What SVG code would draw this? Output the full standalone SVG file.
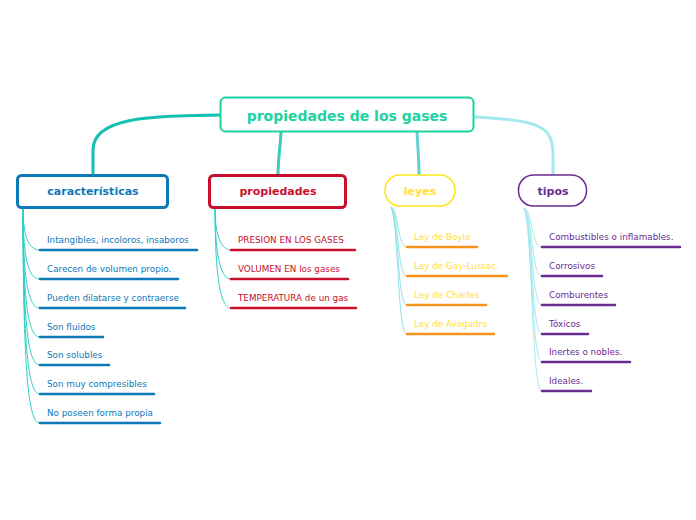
<svg xmlns="http://www.w3.org/2000/svg" width="696" height="520" viewBox="0 0 696 520">
<style>
text{font-family:"DejaVu Sans","Verdana",sans-serif}
.main{font-size:14px;font-weight:bold;fill:#1dd3a0;text-anchor:middle}
.lbl{font-size:11px;font-weight:bold;text-anchor:middle}
.sub{font-size:8.8px}
.c{fill:none}
.thin{fill:none;stroke-width:1}
.ul{stroke-width:2.5;stroke-linecap:round}
</style>
<rect width="696" height="520" fill="#ffffff"/>
<g id="connectors">
<path class="c" d="M220,115 C150,116 93,117 93,150 V176" stroke="#14c0b3" stroke-width="3"/>
<path class="c" d="M281,132 C280,150 278,160 278,176" stroke="#3cc9c0" stroke-width="3"/>
<path class="c" d="M417,132 C418,150 419,160 419,176" stroke="#5dd3d3" stroke-width="3"/>
<path class="c" d="M474,117 C540,120 553,126 553,155 V176" stroke="#a3e9ee" stroke-width="3"/>
<g stroke="#2ed0c6">
<path class="thin" d="M23,207 C23,240 30,250 40,250"/>
<path class="thin" d="M23,207 C23,265 30,279 40,279"/>
<path class="thin" d="M23,207 C23,290 30,308 40,308"/>
<path class="thin" d="M23,207 C23,315 30,337 40,337"/>
<path class="thin" d="M23,207 C23,340 30,365 40,365"/>
<path class="thin" d="M23,207 C23,365 30,394 40,394"/>
<path class="thin" d="M23,207 C23,390 30,423 40,423"/>
</g>
<g stroke="#2ed0c6">
<path class="thin" d="M215,207 C215,238 222,250 231,250"/>
<path class="thin" d="M215,207 C215,262 222,279 231,279"/>
<path class="thin" d="M215,207 C215,286 222,308 231,308"/>
</g>
<g stroke="#8fe3e6">
<path class="thin" d="M391,207 C399,210 397,247 407,247"/>
<path class="thin" d="M391,207 C399,215 397,276 407,276"/>
<path class="thin" d="M391,207 C399,220 397,305 407,305"/>
<path class="thin" d="M391,207 C399,225 397,334 407,334"/>
</g>
<g stroke="#a3e9ee">
<path class="thin" d="M524,208 C533,212 531,247 542,247"/>
<path class="thin" d="M524,208 C533,216 531,276 542,276"/>
<path class="thin" d="M524,208 C533,220 531,305 542,305"/>
<path class="thin" d="M524,208 C533,224 531,334 542,334"/>
<path class="thin" d="M524,208 C533,228 531,362 542,362"/>
<path class="thin" d="M524,208 C533,232 531,391 542,391"/>
</g>
</g>
<g id="root">
<rect x="220.5" y="97.5" width="253" height="34" rx="5" fill="#fff" stroke="#1dd3a0" stroke-width="2"/>
<text class="main" x="347" y="121">propiedades de los gases</text>
</g>
<g id="caracteristicas">
<rect x="17.5" y="175.5" width="150" height="32" rx="4" fill="#fff" stroke="#0b79b8" stroke-width="3"/>
<text class="lbl" x="93" y="195" fill="#0b79b8">características</text>
<g fill="#0b79b8" class="sub">
<text x="47" y="243">Intangibles, incoloros, insaboros</text>
<text x="47" y="272">Carecen de volumen propio.</text>
<text x="47" y="301">Pueden dilatarse y contraerse</text>
<text x="47" y="330">Son fluidos</text>
<text x="47" y="358">Son solubles</text>
<text x="47" y="387">Son muy compresibles</text>
<text x="47" y="416">No poseen forma propia</text>
</g>
<g stroke="#0b79b8" class="ul">
<line x1="40" y1="250" x2="197" y2="250"/>
<line x1="40" y1="279" x2="178" y2="279"/>
<line x1="40" y1="308" x2="185" y2="308"/>
<line x1="40" y1="337" x2="103" y2="337"/>
<line x1="40" y1="365" x2="109" y2="365"/>
<line x1="40" y1="394" x2="154" y2="394"/>
<line x1="40" y1="423" x2="160" y2="423"/>
</g>
</g>
<g id="propiedades">
<rect x="209.5" y="175.5" width="136" height="32" rx="4" fill="#fff" stroke="#c8102e" stroke-width="3"/>
<text class="lbl" x="278" y="195" fill="#c8102e">propiedades</text>
<g fill="#c8102e" class="sub">
<text x="238" y="243">PRESION EN LOS GASES</text>
<text x="238" y="272">VOLUMEN EN los gases</text>
<text x="238" y="301">TEMPERATURA de un gas</text>
</g>
<g stroke="#c8102e" class="ul">
<line x1="231" y1="250" x2="355" y2="250"/>
<line x1="231" y1="279" x2="348" y2="279"/>
<line x1="231" y1="308" x2="356" y2="308"/>
</g>
</g>
<g id="leyes">
<rect x="385" y="175" width="70" height="31" rx="15" fill="#fff" stroke="#ffe51a" stroke-width="1.5"/>
<text class="lbl" x="420" y="195" fill="#ffe033">leyes</text>
<g fill="#ffe033" class="sub">
<text x="414" y="240">Ley de Boyle</text>
<text x="414" y="269">Ley de Gay-Lussac.</text>
<text x="414" y="298">Ley de Charles</text>
<text x="414" y="327">Ley de Avogadro</text>
</g>
<g stroke="#f7941d" class="ul">
<line x1="407" y1="247" x2="477" y2="247"/>
<line x1="407" y1="276" x2="507" y2="276"/>
<line x1="407" y1="305" x2="486" y2="305"/>
<line x1="407" y1="334" x2="494" y2="334"/>
</g>
</g>
<g id="tipos">
<rect x="518.5" y="175" width="68" height="31" rx="15" fill="#fff" stroke="#6b2c91" stroke-width="1.5"/>
<text class="lbl" x="553" y="195" fill="#6b2c91">tipos</text>
<g fill="#6b2c91" class="sub">
<text x="549" y="240">Combustibles o inflamables.</text>
<text x="549" y="269">Corrosivos</text>
<text x="549" y="298">Comburentes</text>
<text x="549" y="327">Tóxicos</text>
<text x="549" y="355">Inertes o nobles.</text>
<text x="549" y="384">Ideales.</text>
</g>
<g stroke="#6b2c91" class="ul">
<line x1="542" y1="247" x2="680" y2="247"/>
<line x1="542" y1="276" x2="602" y2="276"/>
<line x1="542" y1="305" x2="615" y2="305"/>
<line x1="542" y1="334" x2="588" y2="334"/>
<line x1="542" y1="362" x2="630" y2="362"/>
<line x1="542" y1="391" x2="591" y2="391"/>
</g>
</g>
</svg>
